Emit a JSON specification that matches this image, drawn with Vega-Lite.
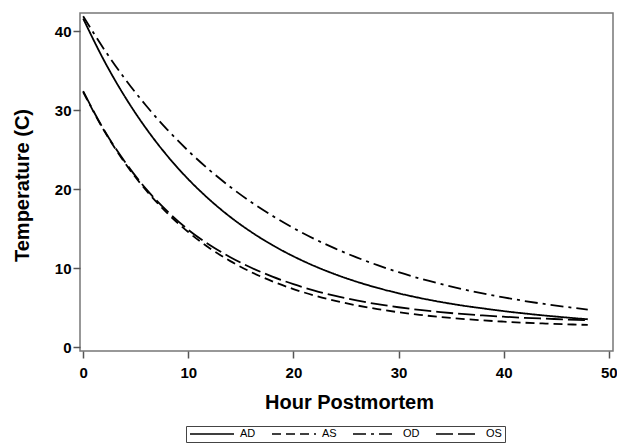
{
  "$schema": "https://vega.github.io/schema/vega-lite/v6.json",
  "autosize": "none",
  "padding": {"left": 80, "top": 13, "right": 4, "bottom": 94},
  "width": 533,
  "height": 338,
  "background": "white",
  "config": {
    "view": {"stroke": "#777777", "strokeWidth": 1.5},
    "font": "Liberation Sans"
  },
  "data": {
    "values": [
      {"h":0,"t":41.6,"s":"AD"},{"h":2,"t":36.25,"s":"AD"},{"h":4,"t":31.64,"s":"AD"},{"h":6,"t":27.66,"s":"AD"},{"h":8,"t":24.22,"s":"AD"},{"h":10,"t":21.25,"s":"AD"},{"h":12,"t":18.69,"s":"AD"},{"h":14,"t":16.47,"s":"AD"},{"h":16,"t":14.56,"s":"AD"},{"h":18,"t":12.91,"s":"AD"},{"h":20,"t":11.49,"s":"AD"},{"h":22,"t":10.26,"s":"AD"},{"h":24,"t":9.2,"s":"AD"},{"h":26,"t":8.28,"s":"AD"},{"h":28,"t":7.49,"s":"AD"},{"h":30,"t":6.81,"s":"AD"},{"h":32,"t":6.22,"s":"AD"},{"h":34,"t":5.71,"s":"AD"},{"h":36,"t":5.27,"s":"AD"},{"h":38,"t":4.9,"s":"AD"},{"h":40,"t":4.55,"s":"AD"},{"h":42,"t":4.25,"s":"AD"},{"h":44,"t":3.98,"s":"AD"},{"h":46,"t":3.74,"s":"AD"},{"h":48,"t":3.52,"s":"AD"},
      {"h":0,"t":32.3,"s":"AS"},{"h":2,"t":27.38,"s":"AS"},{"h":4,"t":23.26,"s":"AS"},{"h":6,"t":19.82,"s":"AS"},{"h":8,"t":16.96,"s":"AS"},{"h":10,"t":14.56,"s":"AS"},{"h":12,"t":12.55,"s":"AS"},{"h":14,"t":10.88,"s":"AS"},{"h":16,"t":9.48,"s":"AS"},{"h":18,"t":8.32,"s":"AS"},{"h":20,"t":7.34,"s":"AS"},{"h":22,"t":6.53,"s":"AS"},{"h":24,"t":5.85,"s":"AS"},{"h":26,"t":5.28,"s":"AS"},{"h":28,"t":4.81,"s":"AS"},{"h":30,"t":4.41,"s":"AS"},{"h":32,"t":4.08,"s":"AS"},{"h":34,"t":3.8,"s":"AS"},{"h":36,"t":3.57,"s":"AS"},{"h":38,"t":3.38,"s":"AS"},{"h":40,"t":3.22,"s":"AS"},{"h":42,"t":3.08,"s":"AS"},{"h":44,"t":2.97,"s":"AS"},{"h":46,"t":2.88,"s":"AS"},{"h":48,"t":2.8,"s":"AS"},
      {"h":0,"t":41.9,"s":"OD"},{"h":2,"t":37.69,"s":"OD"},{"h":4,"t":33.92,"s":"OD"},{"h":6,"t":30.55,"s":"OD"},{"h":8,"t":27.54,"s":"OD"},{"h":10,"t":24.84,"s":"OD"},{"h":12,"t":22.43,"s":"OD"},{"h":14,"t":20.27,"s":"OD"},{"h":16,"t":18.34,"s":"OD"},{"h":18,"t":16.62,"s":"OD"},{"h":20,"t":15.07,"s":"OD"},{"h":22,"t":13.69,"s":"OD"},{"h":24,"t":12.46,"s":"OD"},{"h":26,"t":11.36,"s":"OD"},{"h":28,"t":10.37,"s":"OD"},{"h":30,"t":9.48,"s":"OD"},{"h":32,"t":8.69,"s":"OD"},{"h":34,"t":7.99,"s":"OD"},{"h":36,"t":7.36,"s":"OD"},{"h":38,"t":6.79,"s":"OD"},{"h":40,"t":6.29,"s":"OD"},{"h":42,"t":5.83,"s":"OD"},{"h":44,"t":5.43,"s":"OD"},{"h":46,"t":5.07,"s":"OD"},{"h":48,"t":4.74,"s":"OD"},
      {"h":0,"t":32.4,"s":"OS"},{"h":2,"t":27.45,"s":"OS"},{"h":4,"t":23.4,"s":"OS"},{"h":6,"t":20.0,"s":"OS"},{"h":8,"t":17.2,"s":"OS"},{"h":10,"t":14.85,"s":"OS"},{"h":12,"t":12.95,"s":"OS"},{"h":14,"t":11.38,"s":"OS"},{"h":16,"t":10.04,"s":"OS"},{"h":18,"t":8.92,"s":"OS"},{"h":20,"t":7.96,"s":"OS"},{"h":22,"t":7.15,"s":"OS"},{"h":24,"t":6.47,"s":"OS"},{"h":26,"t":5.91,"s":"OS"},{"h":28,"t":5.43,"s":"OS"},{"h":30,"t":5.04,"s":"OS"},{"h":32,"t":4.7,"s":"OS"},{"h":34,"t":4.43,"s":"OS"},{"h":36,"t":4.19,"s":"OS"},{"h":38,"t":4.0,"s":"OS"},{"h":40,"t":3.84,"s":"OS"},{"h":42,"t":3.7,"s":"OS"},{"h":44,"t":3.59,"s":"OS"},{"h":46,"t":3.49,"s":"OS"},{"h":48,"t":3.41,"s":"OS"}
    ]
  },
  "mark": {"type": "line", "interpolate": "monotone", "strokeWidth": 1.8, "color": "black"},
  "encoding": {
    "x": {
      "field": "h", "type": "quantitative",
      "scale": {"domain": [-0.3, 50.4], "nice": false, "zero": false},
      "axis": {
        "title": "Hour Postmortem",
        "values": [0, 10, 20, 30, 40, 50],
        "grid": false, "domain": false,
        "tickColor": "#555555", "tickWidth": 1.5, "tickSize": 7,
        "labelFont": "Liberation Sans", "labelFontWeight": "bold", "labelFontSize": 15, "labelColor": "black",
        "labelPadding": 7,
        "titleFont": "Liberation Sans", "titleFontWeight": "bold", "titleFontSize": 20, "titleColor": "black",
        "titleBaseline": "alphabetic", "titleY": 57, "titleX": 269
      }
    },
    "y": {
      "field": "t", "type": "quantitative",
      "scale": {"domain": [-0.5, 42.3], "nice": false, "zero": false},
      "axis": {
        "title": "Temperature (C)",
        "values": [0, 10, 20, 30, 40],
        "grid": false, "domain": false,
        "tickColor": "#555555", "tickWidth": 1.5, "tickSize": 7,
        "labelFont": "Liberation Sans", "labelFontWeight": "bold", "labelFontSize": 15, "labelColor": "black",
        "labelPadding": 2,
        "titleFont": "Liberation Sans", "titleFontWeight": "bold", "titleFontSize": 20, "titleColor": "black",
        "titleAngle": -90, "titleBaseline": "alphabetic", "titleAlign": "center", "titleX": -52, "titleY": 172
      }
    },
    "strokeDash": {
      "field": "s", "type": "nominal",
      "scale": {"domain": ["AD", "AS", "OD", "OS"], "range": [[1, 0], [9, 5], [13, 5, 3, 5], [17, 5]]},
      "legend": {
        "title": null,
        "orient": "none", "legendX": 106, "legendY": 413,
        "direction": "horizontal",
        "symbolType": "stroke", "symbolSize": 1936, "symbolStrokeWidth": 1.5, "symbolStrokeColor": "black",
        "clipHeight": 10,
        "labelFont": "Liberation Sans", "labelFontSize": 11, "labelColor": "black", "labelOffset": 5,
        "columnPadding": 15,
        "padding": 3, "strokeColor": "#444444", "fillColor": "white", "cornerRadius": 0
      }
    }
  }
}
